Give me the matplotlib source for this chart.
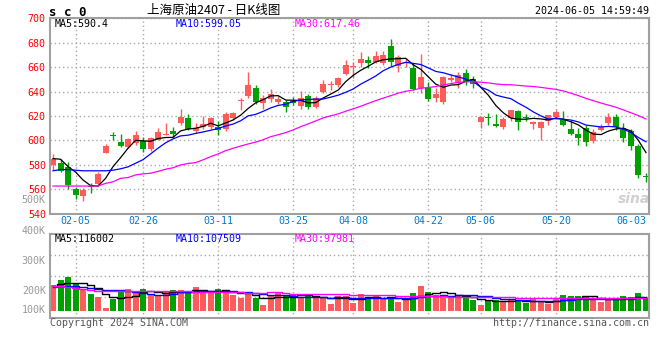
import numpy as np
import pandas as pd
import matplotlib
matplotlib.use("Agg")
import matplotlib.pyplot as plt
import matplotlib.transforms as mtransforms

plt.rcParams["font.family"] = ["DejaVu Sans Mono"]
CJK = ["Noto Sans CJK SC", "DejaVu Sans"]

# daily candles, 2024-01-31 .. 2024-06-05
opens = [580, 581.5, 578, 560, 554, 562.5, 564, 590, 604.2, 599,
         594.5, 598, 599.5, 592.5, 600.5, 604.5, 607.5, 614.5, 618.5, 608,
         610.5, 610.5, 611, 609, 618, 632, 636.5, 643, 630.5, 633.5,
         631.5, 631.5, 632, 628, 636.5, 627.5, 640, 645.5, 645, 654.5,
         660, 663.5, 666, 664.5, 663, 677, 661, 663, 659, 643,
         642.5, 635, 631.5, 649.5, 648, 655.5, 650, 615, 618.5, 613.5,
         611, 618.5, 624, 619, 613.5, 610, 616, 619, 617, 609.5,
         605, 610, 599.5, 608.5, 614, 619.5, 610, 607.5, 595.5, 570.5]
highs = [589, 585, 582, 562, 560.5, 565, 574, 597, 607, 605,
         602, 607.5, 603, 603, 610, 614, 611, 626, 621.5, 614.5,
         620, 619, 616, 623.5, 623.5, 634.5, 656, 645, 637, 642,
         636, 633, 635.5, 640.5, 638, 636, 649.5, 649, 652, 666,
         664, 672, 669, 673, 673.5, 683, 670, 666.5, 663, 670.5,
         648, 643, 653, 654, 656, 658.5, 653, 620, 622, 621.5,
         619.5, 625, 624.5, 621.5, 616, 615.5, 621, 624.5, 624, 617,
         610, 612.5, 609, 613.5, 622.5, 621.5, 614.5, 609, 597, 573]
lows = [576, 574, 560, 551.5, 550, 557, 563.5, 590, 600.5, 594.5,
        593.5, 596, 590.5, 591.5, 600, 604.5, 603, 612.5, 608.5, 606,
        609.5, 609.5, 604, 607.5, 617, 624.5, 635, 630, 626, 631.5,
        630, 623.5, 629, 626, 625.5, 626.5, 638.5, 641.5, 644, 653.5,
        651, 660, 659, 663, 661.5, 660.5, 656, 660, 641, 638.5,
        632.5, 631.5, 630, 647.5, 642.5, 645, 642.5, 610, 612.5, 611,
        609, 615.5, 608.5, 616, 609, 600.5, 612.5, 617.5, 612, 604,
        596, 595, 597.5, 608, 612.5, 608.5, 599, 592, 569.5, 566]
closes = [585, 575, 563, 555.5, 559, 562, 572.5, 595, 603.8, 595.5,
          601, 604.5, 593, 602, 606.5, 605.5, 605, 619.5, 609.5, 610,
          613, 618, 608.5, 621.5, 622.5, 632.5, 645.5, 631.5, 634.5, 638,
          633.5, 627.5, 630.5, 634.5, 627, 635, 646.5, 646.5, 651, 661.5,
          661, 667, 663, 669, 670, 664.5, 668, 664.5, 642, 652,
          633.5, 638, 652, 651, 653.5, 647.5, 646, 619.5, 618, 611.5,
          617.5, 624.5, 615, 618, 615, 615, 620.5, 623, 612.5, 605,
          602, 599, 607, 610.5, 619.5, 610.5, 602, 595.5, 571.5, 570]
volumes_k = [213, 255, 282, 222, 180, 139, 116, 25, 97, 164,
             177, 158, 180, 130, 122, 164, 172, 172, 144, 197,
             164, 149, 180, 158, 130, 108, 139, 108, 47, 122,
             149, 125, 130, 116, 122, 116, 102, 56, 122, 122,
             66, 139, 102, 130, 97, 108, 75, 89, 149, 208,
             158, 130, 130, 108, 122, 108, 89, 47, 89, 89,
             81, 89, 81, 66, 97, 81, 56, 97, 130, 122,
             122, 122, 97, 75, 89, 89, 122, 110, 149, 102]

# moving-average values at the left edge (history before the window)
ma5_head = [585, 584.5, 578.5, 574]
ma10_head = [575, 576, 576, 575.5, 575, 575, 575, 575, 575.5]
ma30_head = [562.5, 562.5, 562.5, 562.5, 562.5, 562.5, 562.5, 564.7, 566, 568.8,
             569.5, 571.6, 572.5, 573, 574.5, 576.3, 577.5, 579.8, 581, 581.7,
             584, 586.6, 588.8, 591.5, 593.5, 595.3, 597, 598.5, 600.5]
vol_ma5_head = [205, 219, 232, 232]
vol_ma10_head = [199, 205, 205, 205, 199, 191, 183, 174, 170]
vol_ma30_head = [203, 203, 195, 187, 178, 170] + [166] * 13 + [158] * 7 + [149] * 3

date_idx = [3, 12, 22, 32, 40, 50, 57, 67, 77]
date_labels = ["02-05", "02-26", "03-11", "03-25", "04-08",
               "04-22", "05-06", "05-20", "06-03"]
price_ticks = [540, 560, 580, 600, 620, 640, 660, 680, 700]
vol_labels = ["400K", "300K", "200K", "100K"]
vol_label_pos = [661, 412, 164, 6]
vol_grid = [114, 288, 462]

UP = "#FF5B5B"
DOWN = "#00A000"
GRID = "#AAAAAA"
FRAME = "#A0A0A0"


def moving_average(values, n, head):
    s = pd.Series(values, dtype=float).rolling(n).mean().to_numpy()
    s[: n - 1] = head
    return s


o = np.array(opens)
c = np.array(closes)
x = np.arange(len(o))
cols = [UP if cc >= oo else DOWN for oo, cc in zip(o, c)]

ma5 = moving_average(closes, 5, ma5_head)
ma10 = moving_average(closes, 10, ma10_head)
ma30 = moving_average(closes, 30, ma30_head)
vma5 = moving_average(volumes_k, 5, vol_ma5_head)
vma10 = moving_average(volumes_k, 10, vol_ma10_head)
vma30 = moving_average(volumes_k, 30, vol_ma30_head)

fig = plt.figure(figsize=(6.6, 3.6), dpi=100)
ax_p = fig.add_axes([50 / 660, 146.5 / 360, 599 / 660, 195.2 / 360])
ax_v = fig.add_axes([50 / 660, 42 / 360, 599 / 660, 84 / 360])

for ax in (ax_p, ax_v):
    ax.set_xlim(-0.4, len(o) - 0.6)
    for sp in ax.spines.values():
        sp.set_color(FRAME)
        sp.set_linewidth(1.5)
    for d in date_idx[:-1]:
        ax.axvline(d, color=GRID, lw=1, ls=(0, (1, 2)), zorder=0)

# --- price panel
ax_p.set_ylim(540, 700)
ax_p.set_yticks(price_ticks)
ax_p.set_yticklabels([str(v) for v in price_ticks])
ax_p.grid(axis="y", color=GRID, lw=1, ls=(0, (1, 2)), zorder=0)
ax_p.tick_params(axis="y", length=0, pad=3, labelcolor="red", labelsize=7.2)
ax_p.set_xticks(date_idx)
ax_p.set_xticklabels(date_labels)
ax_p.tick_params(axis="x", length=0, pad=2, labelcolor="#0078D0", labelsize=7.2)

ax_p.vlines(x, lows, highs, colors=cols, lw=1, zorder=2)
body_bottom = np.minimum(o, c)
body_h = np.maximum(np.abs(c - o), 0.9)
ax_p.bar(x, body_h, bottom=body_bottom, width=0.8, color=cols, linewidth=0, zorder=2)

ax_p.plot(x, ma5, color="black", lw=0.9, zorder=3)
ax_p.plot(x, ma10, color="#0000FF", lw=0.9, zorder=3)
ax_p.plot(x, ma30, color="#FF00FF", lw=0.9, zorder=3)

ax_p.text(0.008, 0.973, "MA5:590.4", transform=ax_p.transAxes, fontsize=7.2,
          color="black", va="center")
ax_p.text(0.209, 0.973, "MA10:599.05", transform=ax_p.transAxes, fontsize=7.2,
          color="#0000FF", va="center")
ax_p.text(0.409, 0.973, "MA30:617.46", transform=ax_p.transAxes, fontsize=7.2,
          color="#FF00FF", va="center")

tp = mtransforms.blended_transform_factory(ax_p.transAxes, ax_p.transData)
ax_p.text(-0.007, 551, "500K", transform=tp, ha="right", va="center",
          fontsize=7.2, color="#999999", clip_on=False)
ax_p.text(0.975, 0.075, "sina", transform=ax_p.transAxes, ha="center", va="center",
          fontsize=10, color="#D0D0D0", style="italic", fontweight="bold",
          family="DejaVu Sans", zorder=1)

# --- volume panel
ax_v.set_ylim(-60.6, 636.6)
ax_v.set_xticks([])
ax_v.set_yticks([])
ax_v.set_yticks(vol_grid, minor=True)
ax_v.grid(which="minor", axis="y", color=GRID, lw=1, ls=(0, (1, 2)), zorder=0)
ax_v.tick_params(which="both", length=0, labelleft=False)

ax_v.bar(x, volumes_k, width=0.8, color=cols, linewidth=0, zorder=2)
ax_v.plot(x, vma5, color="black", lw=1, drawstyle="steps-mid", zorder=3)
ax_v.plot(x, vma10, color="#0000FF", lw=1, drawstyle="steps-mid", zorder=3)
ax_v.plot(x, vma30, color="#FF00FF", lw=1, drawstyle="steps-mid", zorder=3)

tv = mtransforms.blended_transform_factory(ax_v.transAxes, ax_v.transData)
for lab, pos in zip(vol_labels, vol_label_pos):
    ax_v.text(-0.007, pos, lab, transform=tv, ha="right", va="center",
              fontsize=7.2, color="#999999", clip_on=False)

ax_v.text(0.008, 0.946, "MA5:116002", transform=ax_v.transAxes, fontsize=7.2,
          color="black", va="center")
ax_v.text(0.209, 0.946, "MA10:107509", transform=ax_v.transAxes, fontsize=7.2,
          color="#0000FF", va="center")
ax_v.text(0.409, 0.946, "MA30:97981", transform=ax_v.transAxes, fontsize=7.2,
          color="#FF00FF", va="center")

# --- header / footer
fig.text(49 / 660, 0.966, "s c 0", fontsize=9, fontweight="bold", va="center")
fig.text(214 / 660, 0.971, "上海原油2407 - 日K线图", family=CJK, fontsize=9,
         ha="center", va="center")
fig.text(649 / 660, 0.969, "2024-06-05 14:59:49", fontsize=7.2, ha="right", va="center")
fig.text(50 / 660, 0.1014, "Copyright 2024 SINA.COM", fontsize=7.2, color="#555555",
         va="center")
fig.text(649 / 660, 0.1014, "http://finance.sina.com.cn", fontsize=7.2, color="#555555",
         ha="right", va="center")

fig.savefig("out.png", dpi=100)
